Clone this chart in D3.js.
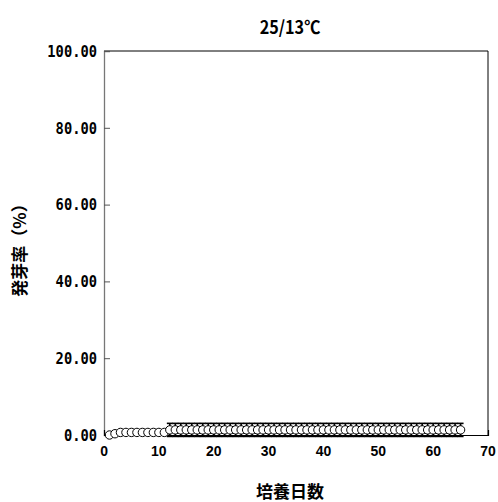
<!DOCTYPE html>
<html>
<head>
<meta charset="utf-8">
<script src="https://cdn.jsdelivr.net/npm/d3@7/dist/d3.min.js"></script>
<style>
  html, body { margin: 0; padding: 0; background: #fff; }
  svg { display: block; }
</style>
</head>
<body>
<svg id="chart" width="498" height="502"></svg>
<script>
// Germination rate (%) by incubation day at 25/13℃
const titleText = "25/13℃";
const xLabel = "培養日数";
const yLabel = "発芽率（%）";
const xTicks = [0, 10, 20, 30, 40, 50, 60, 70];
const yTicks = [0, 20, 40, 60, 80, 100];

const days = d3.range(1, 66);
const rates = [
  0, 0.33, 0.67, 0.67, 0.67, 0.67, 0.67, 0.67, 0.67, 0.67, 0.67,
  ...Array(54).fill(1.33)
];
const errors = [
  0, 0, 0, 0, 0, 0, 0, 0, 0, 0, 0,
  ...Array(54).fill(1.7)
];

const svg = d3.select("#chart");
const plotL = 104, plotR = 488, plotT = 51, plotB = 435;

const x = d3.scaleLinear().domain([0, 70]).range([plotL, plotR]);
const y = d3.scaleLinear().domain([0, 100]).range([plotB, plotT]);

const numFont = "'DejaVu Sans Mono', monospace";
const cjkFont = "'Noto Sans CJK JP', 'Noto Sans', sans-serif";

// frame: top and right edges
svg.append("path")
  .attr("d", `M${plotL},${plotT}H${plotR}V${plotB}`)
  .attr("fill", "none").attr("stroke", "#000").attr("stroke-width", 1);

// y axis (ticks pointing inward)
const yAxis = svg.append("g")
  .attr("transform", `translate(${plotL},0)`)
  .call(d3.axisRight(y).tickValues(yTicks).tickSize(6).tickFormat(""));
yAxis.select(".domain").attr("stroke", "#777").attr("stroke-width", 1.3);
yAxis.selectAll(".tick line").attr("stroke", "#555");

// y tick labels, narrowed monospace digits
svg.append("g").selectAll("text").data(yTicks).join("text")
  .attr("transform", d => `translate(${plotL - 7},${y(d)}) scale(0.86,1)`)
  .attr("dy", "0.36em")
  .attr("text-anchor", "end")
  .attr("font-family", numFont)
  .attr("font-weight", "bold")
  .attr("font-size", 16)
  .attr("fill", "#000")
  .text(d => d.toFixed(2));

// x axis (ticks pointing inward)
const xAxis = svg.append("g")
  .attr("transform", `translate(0,${plotB})`)
  .call(d3.axisTop(x).tickValues(xTicks).tickSize(5).tickFormat(""));
xAxis.select(".domain").attr("stroke", "#000").attr("stroke-width", 1.2);
xAxis.selectAll(".tick line").attr("stroke", "#000");

svg.append("g").selectAll("text").data(xTicks).join("text")
  .attr("transform", d => `translate(${x(d)},456) scale(0.9,1)`)
  .attr("text-anchor", "middle")
  .attr("font-family", "'Liberation Sans', Arial, sans-serif")
  .attr("font-weight", "bold")
  .attr("font-size", 15.5)
  .attr("fill", "#000")
  .text(d => d);

// error bars
const pts = days.map((d, i) => ({ day: d, v: rates[i], e: errors[i] }));
const eb = svg.append("g").attr("stroke", "#000").attr("stroke-width", 1.6);
pts.filter(p => p.e > 0).forEach(p => {
  const cx = x(p.day);
  eb.append("line").attr("x1", cx).attr("x2", cx)
    .attr("y1", y(p.v + p.e)).attr("y2", y(p.v - p.e));
  eb.append("line").attr("x1", cx - 3).attr("x2", cx + 3)
    .attr("y1", y(p.v + p.e)).attr("y2", y(p.v + p.e));
  eb.append("line").attr("x1", cx - 3).attr("x2", cx + 3)
    .attr("y1", y(p.v - p.e)).attr("y2", y(p.v - p.e));
});

// markers
svg.append("g").selectAll("circle").data(pts).join("circle")
  .attr("cx", p => x(p.day))
  .attr("cy", p => y(p.v))
  .attr("r", 4.2)
  .attr("fill", "#fff")
  .attr("stroke", "#000")
  .attr("stroke-width", 1);

// title
svg.append("text")
  .attr("transform", "translate(290,34) scale(0.9,1)")
  .attr("text-anchor", "middle")
  .attr("font-family", cjkFont)
  .attr("font-weight", "bold")
  .attr("font-size", 18)
  .attr("fill", "#000")
  .text(titleText);

// x axis title
svg.append("text")
  .attr("x", 290).attr("y", 498)
  .attr("text-anchor", "middle")
  .attr("font-family", cjkFont)
  .attr("font-weight", "bold")
  .attr("font-size", 17)
  .attr("fill", "#000")
  .text(xLabel);

// y axis title
svg.append("text")
  .attr("transform", "translate(26,246) rotate(-90)")
  .attr("text-anchor", "middle")
  .attr("font-family", cjkFont)
  .attr("font-weight", "bold")
  .attr("font-size", 17)
  .attr("fill", "#000")
  .text(yLabel);
</script>
</body>
</html>
